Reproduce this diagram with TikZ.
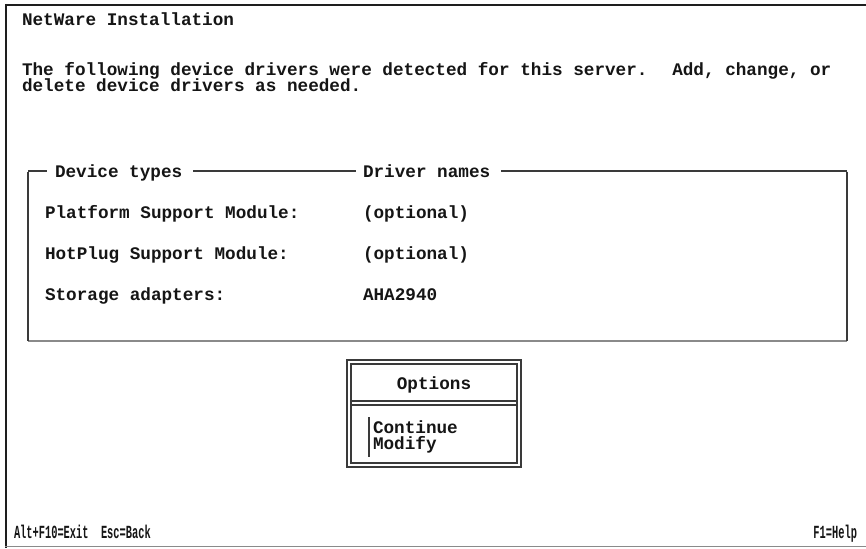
\documentclass[tikz,border=0pt]{standalone}
\usepackage{fontspec}
\usepackage{graphicx}
\newfontfamily\dosfont{Liberation Mono}
\definecolor{txt}{HTML}{151515}
\definecolor{frm}{HTML}{1E1E1E}
\definecolor{boxc}{HTML}{3A3A3A}
\definecolor{lgray}{HTML}{8A8A8A}
\tikzset{
  dos/.style={inner sep=0pt, outer sep=0pt, anchor=base west, text=txt,
    font=\dosfont\bfseries\fontsize{17.67}{16}\selectfont},
  foot/.style={dos, font=\dosfont\bfseries\fontsize{18.5}{16}\selectfont},
  thickline/.style={draw=frm, line width=2.4pt},
  boxside/.style={draw=boxc, line width=2.6pt},
  boxtop/.style={draw=boxc, line width=1.3pt},
  boxbot/.style={draw=lgray, line width=1.6pt},
  optline/.style={draw=boxc, line width=1.3pt},
}
\begin{document}
\begin{tikzpicture}[x=1pt,y=-1pt]
\useasboundingbox[fill=white] (0,0) rectangle (866,548);
% outer frame
\draw[thickline] (6,5) -- (866,5);
\draw[thickline] (6,4) -- (6,548);
\draw[draw=lgray, line width=1.2pt] (5,546.5) -- (866,546.5);

% header texts
\node[dos] (title) at (22,26) {NetWare Installation};
\node[dos] (intro1) at (22,76) {The following device drivers were detected for this server.~ Add, change, or};
\node[dos] (intro2) at (22,92) {delete device drivers as needed.};

% device box
\node[dos] (hdrtype) at (55,177) {Device types};
\node[dos] (hdrdrv) at (363,177) {Driver names};
\coordinate (tl) at (28,171);
\coordinate (tr) at (847,171);
\coordinate (bl) at (28,341);
\coordinate (br) at (847,341);
\draw[boxtop] (tl) -- (47,171);
\draw[boxtop] (193,171) -- (356,171);
\draw[boxtop] (501,171) -- (tr);
\draw[boxbot] (bl) -- (br);
\draw[boxside] ([yshift=-0.6pt]tl) -- (bl);
\draw[boxside] ([yshift=-0.6pt]tr) -- (br);

\node[dos] (t1) at (45,218) {Platform Support Module:};
\node[dos] (d1) at (363,218) {(optional)};
\node[dos] (t2) at (45,259) {HotPlug Support Module:};
\node[dos] (d2) at (363,259) {(optional)};
\node[dos] (t3) at (45,300) {Storage adapters:};
\node[dos] (d3) at (363,300) {AHA2940};

% options box
\draw[optline, line width=2pt] (347,360) rectangle (521,467);
\draw[optline] (351,364) rectangle (517,463);
\draw[optline] (351,401) -- (517,401);
\draw[optline] (351,405) -- (517,405);
\node[dos, anchor=base] (opt) at (434,389) {Options};
\draw[draw=boxc, line width=2pt] (369,417) -- (369,457);
\node[dos] (cont) at (373,433) {Continue};
\node[dos] (modi) at (373,449) {Modify};

% footer
\node[foot] (keys) at (14,538) {\scalebox{0.56}[1]{Alt+F10=Exit~ Esc=Back}};
\node[foot, anchor=base east] (help) at (857,538) {\scalebox{0.56}[1]{F1=Help}};
\end{tikzpicture}
\end{document}
